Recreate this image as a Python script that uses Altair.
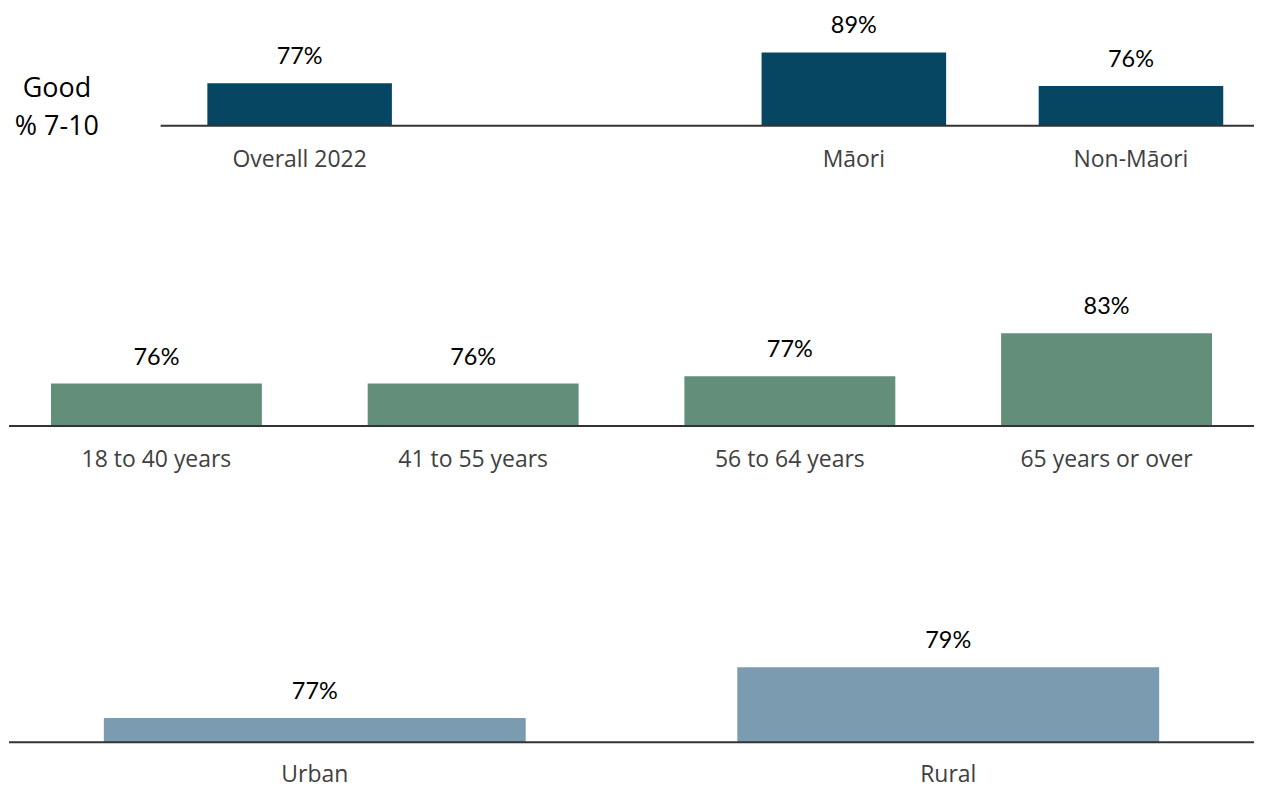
import altair as alt
import pandas as pd

# ---------------- data ----------------
top_cats = ["Overall 2022", "Māori", "Non-Māori"]
top_vals = [77, 89, 76]
top_slots = ["Overall 2022", " ", "Māori", "Non-Māori"]

age_cats = ["18 to 40 years", "41 to 55 years", "56 to 64 years", "65 years or over"]
age_vals = [76, 76, 77, 83]

area_cats = ["Urban", "Rural"]
area_vals = [77, 79]

side_label = "Good\n% 7-10"

# ---------------- style ----------------
W = 1248
VALUE_FONT = "Lato"
CAT_FONT = "Open Sans"


def panel(cats, vals, slots, color, rng, p_out, dom, height, rule_start,
          label_pad=41, extra=None):
    df = pd.DataFrame({"cat": cats, "v": vals, "lab": [f"{v}%" for v in vals]})
    base = alt.Chart(df).encode(
        x=alt.X(
            "cat:N",
            sort=slots,
            scale=alt.Scale(domain=slots, range=rng, paddingInner=0.334, paddingOuter=p_out),
            axis=alt.Axis(
                title=None, domain=False, ticks=False, tickSize=0, labelAngle=0,
                labelFont=CAT_FONT, labelFontSize=23, labelColor="#404040",
                labelPadding=label_pad, labelBaseline="alphabetic",
            ),
        ),
        y=alt.Y("v:Q", scale=alt.Scale(domain=dom, zero=False, nice=False), axis=None),
    )
    bars = base.mark_bar(color=color).encode(y2=alt.datum(dom[0]))
    text = base.mark_text(
        font=VALUE_FONT, fontSize=23.5, baseline="alphabetic", dy=-19, color="black"
    ).encode(text="lab:N")
    rule = alt.Chart(pd.DataFrame({"r": [0]})).mark_rule(
        color="#333333", strokeWidth=2
    ).encode(x=alt.value(rule_start), x2=alt.value(W), y=alt.value(height))
    layers = [bars, text, rule]
    if extra is not None:
        layers.append(extra)
    return alt.layer(*layers).properties(width=W, height=height)


side = alt.Chart(pd.DataFrame({"t": [side_label]})).mark_text(
    lineBreak="\n", lineHeight=38, font=CAT_FONT, fontSize=27,
    align="center", baseline="alphabetic", color="black",
).encode(text="t:N", x=alt.value(48), y=alt.value(88))

top = panel(top_cats, top_vals, top_slots, "#064663", [168, 1248], 0.111,
            [60.58, 105.88], 117, 152, extra=side)
mid = panel(age_cats, age_vals, age_cats, "#628E7A", [0, 1248], 0.1325,
            [70.1, 97.98], 201, 0)
bot = panel(area_cats, area_vals, area_cats, "#7B9BB0", [0, 1248], 0.1497,
            [76.04, 84.60], 217, 0, label_pad=39)

chart = alt.vconcat(top, mid, bot, spacing=100, bounds="flush").properties(
    padding={"left": 0, "top": 0, "right": 0, "bottom": 2.5}
).configure_view(stroke=None)

chart.save("out.html", embed_options={"renderer": "svg", "actions": False})
